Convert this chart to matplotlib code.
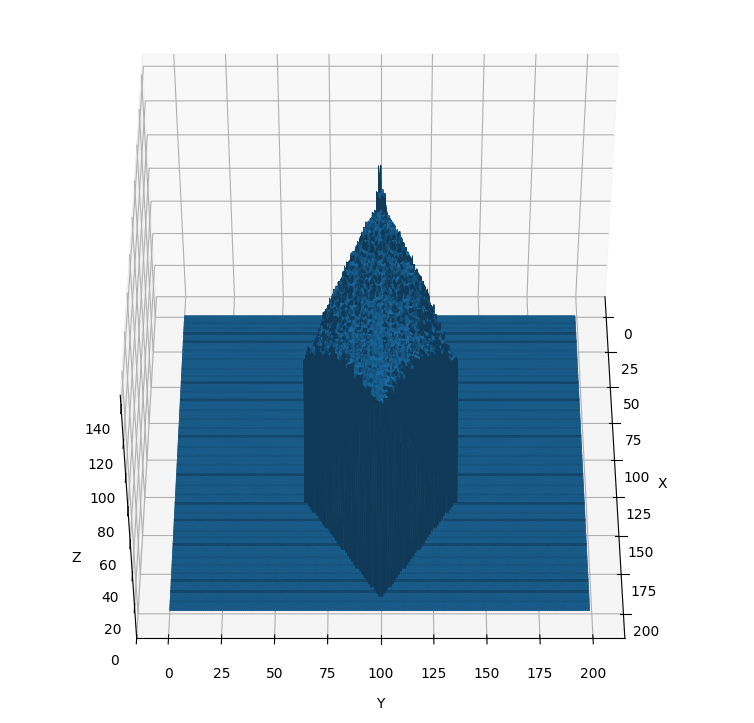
import numpy as np
import matplotlib
matplotlib.use("Agg")
import matplotlib.pyplot as plt

base_height = 1.0
ticks_xy = [0, 25, 50, 75, 100, 125, 150, 175, 200]
ticks_z = [0, 20, 40, 60, 80, 100, 120, 140]

# rows of the plateau table start at x=55, one row per 5 units; columns span y=64..136, 4 units each
top_table = [
 [0,0,0,0,0,0,0,0,140,140,0,0,0,0,0,0,0,0],
 [0,0,0,0,0,0,0,0,128,127,0,0,0,0,0,0,0,0],
 [0,0,0,0,0,0,0,119,120,120,119,0,0,0,0,0,0,0],
 [0,0,0,0,0,0,118,119,119,119,118,118,0,0,0,0,0,0],
 [0,0,0,0,0,117,118,118,118,118,118,118,117,0,0,0,0,0],
 [0,0,0,0,0,115,116,116,116,116,116,116,115,0,0,0,0,0],
 [0,0,0,0,113,114,114,114,114,114,114,114,114,113,0,0,0,0],
 [0,0,0,0,111,111,112,112,112,112,112,112,111,111,0,0,0,0],
 [0,0,0,108,109,110,110,110,110,110,110,110,110,109,108,0,0,0],
 [0,0,0,107,107,108,108,108,108,108,108,108,108,107,107,0,0,0],
 [0,0,103,104,105,105,106,106,106,106,106,106,105,105,104,103,0,0],
 [0,98,100,102,103,104,104,105,105,105,105,104,104,103,102,100,98,0],
 [0,95,97,99,101,102,103,104,104,104,104,103,102,101,99,97,95,0],
 [91,93,95,97,99,101,102,103,104,104,103,102,101,99,97,95,93,91],
 [89,92,95,98,100,101,102,103,104,104,103,102,101,100,98,95,92,89],
 [88,95,98,100,101,102,103,104,105,105,104,103,102,101,100,98,95,88],
 [88,97,100,102,103,104,105,105,106,106,105,105,104,103,102,100,97,88],
 [88,97,103,104,105,106,107,107,108,108,107,107,106,105,104,103,97,88],
 [88,97,103,107,108,108,109,109,110,110,109,109,108,108,107,103,97,88],
 [88,97,103,107,110,111,111,111,112,112,111,111,111,110,107,103,97,88],
 [88,97,103,107,110,112,113,113,113,113,113,113,112,110,107,103,97,88],
 [88,97,103,107,110,112,114,114,114,114,114,114,112,110,107,103,97,88],
 [88,97,103,107,110,112,114,115,115,115,115,114,112,110,107,103,97,88],
 [88,97,103,107,110,112,114,116,116,116,116,114,112,110,107,103,97,88],
 [88,97,103,107,110,112,114,116,116,116,116,114,112,110,107,103,97,88],
 [88,97,103,107,110,112,114,116,117,117,116,114,112,110,107,103,97,88],
 [88,97,103,107,110,112,114,116,117,117,116,114,112,110,107,103,97,88],
]
# half width of the pillar footprint every 2 units of x, from x=56
half_width = [0.4,1,2,2.5,3.5,4.5,5.5,6.5,7.5,8.5,9.5,10.5,11.5,12.5,13.5,14.5,15.5,16.5,17.5,18.5,
 19.5,20.5,21.5,22.5,23.5,24.5,25.5,26.5,27.5,28.5,29.5,30.5,31.5,32.5,33.5,35,36,34.3,33,32,
 30.8,29.6,28.4,27.3,26.1,24.9,23.8,22.6,21.5,20.3,19.1,18,16.8,15.7,14.5,13.3,12.2,11,9.9,8.7,
 7.5,6.4,5.2,4.1,2.9,1.7,0.6]
# where the lit top ends and the steep front face starts, per table column
star_x = [128,133,139,145,151,158,167,176,186,186,176,167,158,151,145,139,133,128]
# fine surface roughness of the plateau
rough = [
 [0,.6,-1.5,0,0,1.2,0,0,-1.2,0,.6,0,1.5],
 [0,0,0,1.5,-.6,0,0,-1.5,0,0,0,1.2,0],
 [1.2,0,-1.2,0,0,0,1.5,0,0,.6,-1.5,0,0],
 [0,0,.6,0,-1.5,0,0,0,1.2,0,0,0,-1.2],
 [-1.2,1.5,0,0,0,.6,-1.5,0,0,0,1.5,0,0],
 [0,0,0,-1.5,1.2,0,0,0,-1.2,1.5,0,0,.6],
 [.6,0,1.5,0,0,0,-1.2,1.2,0,0,0,-1.5,0],
 [0,-1.5,0,0,.6,1.5,0,0,0,-1.2,0,1.2,0],
 [0,1.2,0,-1.2,0,0,0,1.5,-1.5,0,0,0,.6],
 [1.5,0,0,0,0,-1.5,.6,0,0,1.2,-1.2,0,0],
 [0,0,-1.2,1.2,0,0,0,-1.5,0,0,1.5,0,-.6],
]
# offsets that break the table's block edges into an irregular pattern
row_shift = [0,3,1,4,2,0,3,4,1,2,3,0,4]
col_shift = [2,0,3,1,3,0,2,1,0,3,1]
# rows of the flat floor that carry a dark line, and fainter ones
dark_rows = [13,19,48,60,85,111,130,141,157,180,187]
faint_rows = [5,9,25,31,38,43,54,67,73,79,92,98,104,118,124,136,148,152,165,170,175,193]

Z = np.full((200, 200), base_height)
for r in dark_rows:
    Z[r, :] += 0.7
for r in faint_rows:
    Z[r, :] += 0.2
for x in range(56, 190):
    hw = half_width[(x - 56) // 2]
    for y in range(60, 141):
        if abs(y - 100) > hw:
            continue
        col = min(max((y - 64) // 4, 0), 17)
        sx = star_x[col]
        if x <= sx:
            r = min((x - 55 + row_shift[y % 13]) // 5, 26)
            c = min(max((y - 64 + col_shift[x % 11]) // 4, 0), 17)
            h = top_table[r][c]
            while h == 0:
                c += 1 if c < 9 else -1
                h = top_table[r][c]
            Z[x, y] = h + rough[x % 11][y % 13]
        else:
            h = top_table[(sx - 55) // 5][col] - 7 * (x - sx)
            Z[x, y] = max(h, 8)

# cell shading: steep faces go dark on both sides of the pillar
gx = 0.5 * (Z[1:, :-1] - Z[:-1, :-1] + Z[1:, 1:] - Z[:-1, 1:])
gy = 0.5 * (Z[:-1, 1:] - Z[:-1, :-1] + Z[1:, 1:] - Z[1:, :-1])
length = np.sqrt(gx**2 + gy**2 + 1)
nx, ny = gx / length, gy / length
steep = length > 3
is_top = 0.25 * (Z[:-1, :-1] + Z[1:, :-1] + Z[:-1, 1:] + Z[1:, 1:]) > 5
floor_factor = 0.75 - 0.3 * np.clip(-nx, 0, None)
top_factor = 0.88 - 1.0 * np.clip(-nx - 0.35, 0, 0.4) - 0.5 * np.clip(np.abs(ny) - 0.5, 0, 0.5)
factor = np.where(is_top, top_factor, floor_factor)
factor = np.where(steep, 0.48, factor)
rgb = np.array([0x1f, 0x77, 0xb4]) / 255
cell_colors = np.zeros((199, 199, 4))
cell_colors[..., :3] = factor.T[..., None] * rgb
cell_colors[..., 3] = 1

xs = np.arange(200)
ys = np.arange(200)
Y, X = np.meshgrid(ys, xs, indexing='ij')

fig = plt.figure(figsize=(7.54, 7.23), dpi=100)
ax = fig.add_axes([-0.008, 0.013, 1, 1], projection='3d')
ax.plot_surface(X, Y, Z.T, rstride=1, cstride=1, facecolors=cell_colors, shade=False, linewidth=0.5)
ax.set_xlim(-15, 215)
ax.set_ylim(-15, 215)
ax.set_zlim(0, 147)
ax.set_box_aspect((4, 4, 2.85), zoom=1.025)
ax.view_init(elev=45, azim=0)
ax.set_xticks(ticks_xy)
ax.set_yticks(ticks_xy)
ax.set_zticks(ticks_z)
ax.tick_params(axis='x', pad=5)
ax.tick_params(axis='y', pad=5)
ax.set_xlabel('X', labelpad=8)
ax.set_ylabel('Y', labelpad=9)
ax.set_zlabel('Z', labelpad=6)
fig.savefig('out.png', dpi=100)
